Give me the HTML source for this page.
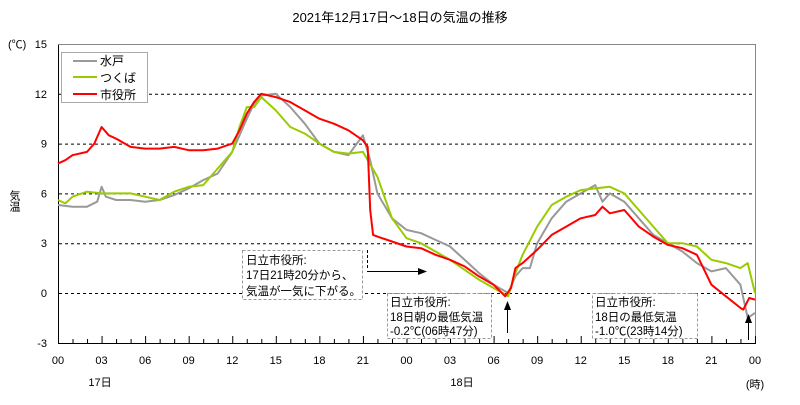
<!DOCTYPE html>
<html><head><meta charset="utf-8"><style>
body{margin:0;background:#fff;}
svg{font-family:"Liberation Sans","Noto Sans CJK JP",sans-serif;}
</style></head><body>
<svg id="s" width="800" height="400" xmlns="http://www.w3.org/2000/svg">
<rect width="800" height="400" fill="#fff"/>
<text x="400" y="22" font-size="13" text-anchor="middle">2021年12月17日～18日の気温の推移</text>
<text x="8" y="48" font-size="11">(℃)</text>
<text x="14" y="190" font-size="11" writing-mode="tb">気温</text>
<g id="grid" stroke="#000" stroke-dasharray="3,3" stroke-width="1"></g>
<g id="ylab" font-size="11" text-anchor="end"></g>
<g id="xlab" font-size="11" text-anchor="middle"></g>
<line x1="58.5" y1="44" x2="58.5" y2="343" stroke="#000"/>
<line x1="58" y1="44.5" x2="755" y2="44.5" stroke="#888"/>
<line x1="755.5" y1="44" x2="755.5" y2="343" stroke="#888"/>
<line x1="58" y1="343.5" x2="756" y2="343.5" stroke="#000"/>
<g id="ticks" stroke="#000"></g>
<g id="series" fill="none" stroke-width="2" stroke-linejoin="round"></g>
<rect x="61.5" y="52.5" width="86" height="50" fill="#fff" stroke="#aaa"/>
<line x1="73" y1="61" x2="97" y2="61" stroke="#999" stroke-width="2"/>
<line x1="73" y1="77" x2="97" y2="77" stroke="#99cc00" stroke-width="2"/>
<line x1="73" y1="94" x2="97" y2="94" stroke="#f00" stroke-width="2"/>
<text x="100" y="65" font-size="12">水戸</text>
<text x="100" y="82" font-size="12">つくば</text>
<text x="100" y="99" font-size="12">市役所</text>
<g font-size="11.5">
<rect x="242.5" y="250.5" width="120" height="49" fill="#fff" stroke="#999" stroke-dasharray="3,2"/>
<text x="246" y="264">日立市役所:</text>
<text x="246" y="279">17日21時20分から、</text>
<text x="246" y="295">気温が一気に下がる。</text>
<line x1="367.5" y1="250" x2="367.5" y2="270" stroke="#000" stroke-dasharray="3,2"/>
<line x1="367" y1="271.5" x2="420" y2="271.5" stroke="#000"/>
<polygon points="427,271.5 418,268 418,275" fill="#000"/>
<rect x="387.5" y="293.5" width="104" height="45" fill="#fff" stroke="#999" stroke-dasharray="3,2"/>
<text x="390" y="306">日立市役所:</text>
<text x="390" y="321">18日朝の最低気温</text>
<text x="390" y="335">-0.2℃(06時47分)</text>
<line x1="507.5" y1="333" x2="507.5" y2="308" stroke="#000"/>
<polygon points="507.5,301 504,310 511,310" fill="#000"/>
<rect x="592.5" y="293.5" width="105" height="45" fill="#fff" stroke="#999" stroke-dasharray="3,2"/>
<text x="595" y="306">日立市役所:</text>
<text x="595" y="321">18日の最低気温</text>
<text x="595" y="335">-1.0℃(23時14分)</text>
<line x1="748.5" y1="340" x2="748.5" y2="321" stroke="#000"/>
<polygon points="748.5,314 745,323 752,323" fill="#000"/>
</g>
<text x="100" y="386" font-size="11" text-anchor="middle">17日</text>
<text x="462" y="386" font-size="11" text-anchor="middle">18日</text>
<text x="755" y="388" font-size="11" text-anchor="middle">(時)</text>
</svg>
<script>
var ns="http://www.w3.org/2000/svg";
function X(h){return 58+h*14.52;}function Y(t){return 293-t*16.6;}
function el(p,n,a,t){var e=document.createElementNS(ns,n);for(var k in a)e.setAttribute(k,a[k]);if(t!=null)e.textContent=t;document.getElementById(p).appendChild(e);}
[12,9,6,3,0].forEach(function(t){el("grid","line",{x1:59,x2:755,y1:Y(t)+.5,y2:Y(t)+.5});});
[15,12,9,6,3,0,-3].forEach(function(t){el("ylab","text",{x:47,y:Y(t)+4},t);});
for(var h=0;h<=48;h++){el("ticks","line",{x1:X(h)+.5,x2:X(h)+.5,y1:343,y2:h%3==0?336:339});}
for(var h=0;h<=48;h+=3){var v=h%24;el("xlab","text",{x:X(h),y:364},(v<10?"0":"")+v);}
var S={
m:["#999",[0,5.3,1,5.2,2,5.2,2.7,5.5,3,6.4,3.3,5.8,4,5.6,5,5.6,6,5.5,7,5.6,8,5.9,9,6.3,10,6.8,11,7.2,12,8.5,12.5,9.5,13,10.5,13.5,11.4,14,11.9,15,12,16,11.2,17,10.2,18,9,19,8.5,20,8.3,21,9.5,21.5,8,22,6,23,4.5,24,3.8,25,3.6,26,3.2,27,2.8,28,2,29,1.2,30,0.5,31,0,31.5,1,32,1.5,32.5,1.5,33,3,34,4.5,35,5.5,36,6,37,6.5,37.5,5.5,38,6,39,5.5,40,4.5,41,3.5,42,3,43,2.5,44,1.8,45,1.3,46,1.5,47,0.5,47.5,-1.5,48,-1.2]],
t:["#99cc00",[0,5.6,0.5,5.4,1,5.8,2,6.1,3,6,4,6,5,6,6,5.8,7,5.6,8,6.1,9,6.4,10,6.5,11,7.5,12,8.5,12.5,10,13,11.2,13.5,11.2,14,11.8,15,11,16,10,17,9.6,18,9,19,8.5,20,8.4,21,8.5,22,7,23,4.5,24,3.3,25,3,26,2.5,27,2,28,1.4,29,0.8,30,0.3,31,-0.2,31.5,1.2,32,2.3,33,4,34,5.3,35,5.8,36,6.2,37,6.3,38,6.4,39,6,40,5,41,4,42,3,43,3,44,2.8,45,2,46,1.8,47,1.5,47.5,1.8,48,0]],
r:["#f00",[0,7.8,0.5,8,1,8.3,2,8.5,2.5,9,3,10,3.5,9.5,4,9.3,5,8.8,6,8.7,7,8.7,8,8.8,9,8.6,10,8.6,11,8.7,12,9,12.5,9.8,13,10.8,13.5,11.5,14,12,15,11.8,16,11.5,17,11,18,10.5,19,10.2,20,9.8,21,9.2,21.33,8.8,21.5,5,21.7,3.5,22,3.4,23,3.1,24,2.8,25,2.7,26,2.3,27,2,28,1.6,29,1,30,0.5,30.8,-0.2,31.2,0.3,31.5,1.5,32,1.8,33,2.6,34,3.5,35,4,36,4.5,37,4.7,37.5,5.2,38,4.8,39,5,40,4,41,3.4,42,2.9,43,2.7,44,2.3,45,0.5,46,-0.2,47,-0.9,47.2,-1,47.6,-0.3,48,-0.4]]};
["m","t","r"].forEach(function(k){var c=S[k][0],d=S[k][1],p=[];for(var i=0;i<d.length;i+=2)p.push(X(d[i]).toFixed(1)+","+Y(d[i+1]).toFixed(1));el("series","polyline",{points:p.join(" "),stroke:c});});
</script>
</body></html>
